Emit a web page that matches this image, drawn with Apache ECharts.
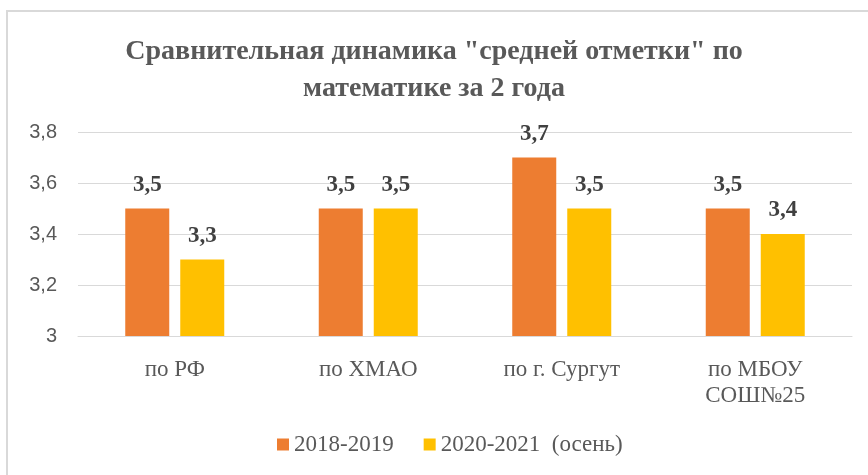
<!DOCTYPE html>
<html>
<head>
<meta charset="utf-8">
<script src="https://cdn.jsdelivr.net/npm/echarts@6/dist/echarts.min.js"></script>
<style>
  html, body { margin: 0; padding: 0; background: #fff; }
  #frame { position: absolute; left: 6px; top: 10px; width: 862px; height: 465px;
           border-left: 2px solid #d9d9d9; border-top: 2px solid #d9d9d9; box-sizing: border-box; }
  #chart { position: absolute; left: 0; top: 0; width: 868px; height: 475px; }
</style>
</head>
<body>
<div id="frame"></div>
<div id="chart"></div>
<script>
// данные диаграммы
const categories = ['по РФ', 'по ХМАО', 'по г. Сургут', 'по МБОУ\nСОШ№25'];
const seriesNames = ['2018-2019', '2020-2021  (осень)'];
const values2018 = [3.5, 3.5, 3.7, 3.5];
const values2020 = [3.3, 3.5, 3.5, 3.4];
const colors = ['#ED7D31', '#FFC000'];

const serif = '"Liberation Serif", "DejaVu Serif", serif';

const chart = echarts.init(document.getElementById('chart'), null, { renderer: 'canvas' });

const labelStyle = {
  show: true,
  position: 'top',
  distance: 12,
  fontFamily: serif,
  fontWeight: 'bold',
  fontSize: 23,
  color: '#404040',
  formatter: p => String(p.value).replace('.', ',')
};

chart.setOption({
  animation: false,
  backgroundColor: 'transparent',
  title: {
    text: 'Сравнительная динамика "средней отметки" по\nматематике за 2 года',
    left: 'center',
    top: 28,
    textStyle: {
      fontFamily: serif,
      fontWeight: 'bold',
      fontSize: 28,
      lineHeight: 37,
      color: '#595959'
    }
  },
  legend: {
    top: 428,
    left: 272,
    itemWidth: 12,
    itemHeight: 12,
    itemGap: 30,
    icon: 'rect',
    textStyle: { fontFamily: serif, fontSize: 23, color: '#595959' },
    data: seriesNames
  },
  grid: { left: 78, right: 16, top: 132, bottom: 139, containLabel: false },
  xAxis: {
    type: 'category',
    data: categories,
    axisLine: { show: true, lineStyle: { color: '#d9d9d9' } },
    axisTick: { show: false },
    axisLabel: {
      fontFamily: serif,
      fontSize: 23,
      color: '#595959',
      margin: 21,
      lineHeight: 26
    }
  },
  yAxis: {
    type: 'value',
    min: 3,
    max: 3.8,
    interval: 0.2,
    axisLine: { show: false },
    axisTick: { show: false },
    splitLine: { lineStyle: { color: '#d9d9d9', width: 1 } },
    axisLabel: {
      fontFamily: '"Liberation Sans", Arial, sans-serif',
      fontSize: 20,
      color: '#595959',
      margin: 21,
      formatter: v => (Math.round(v * 10) / 10).toString().replace('.', ',')
    }
  },
  series: [
    {
      name: seriesNames[0],
      type: 'bar',
      data: values2018,
      barWidth: 44,
      barGap: '25%',
      itemStyle: { color: colors[0] },
      label: labelStyle
    },
    {
      name: seriesNames[1],
      type: 'bar',
      data: values2020,
      barWidth: 44,
      itemStyle: { color: colors[1] },
      label: labelStyle
    }
  ]
});
</script>
</body>
</html>
